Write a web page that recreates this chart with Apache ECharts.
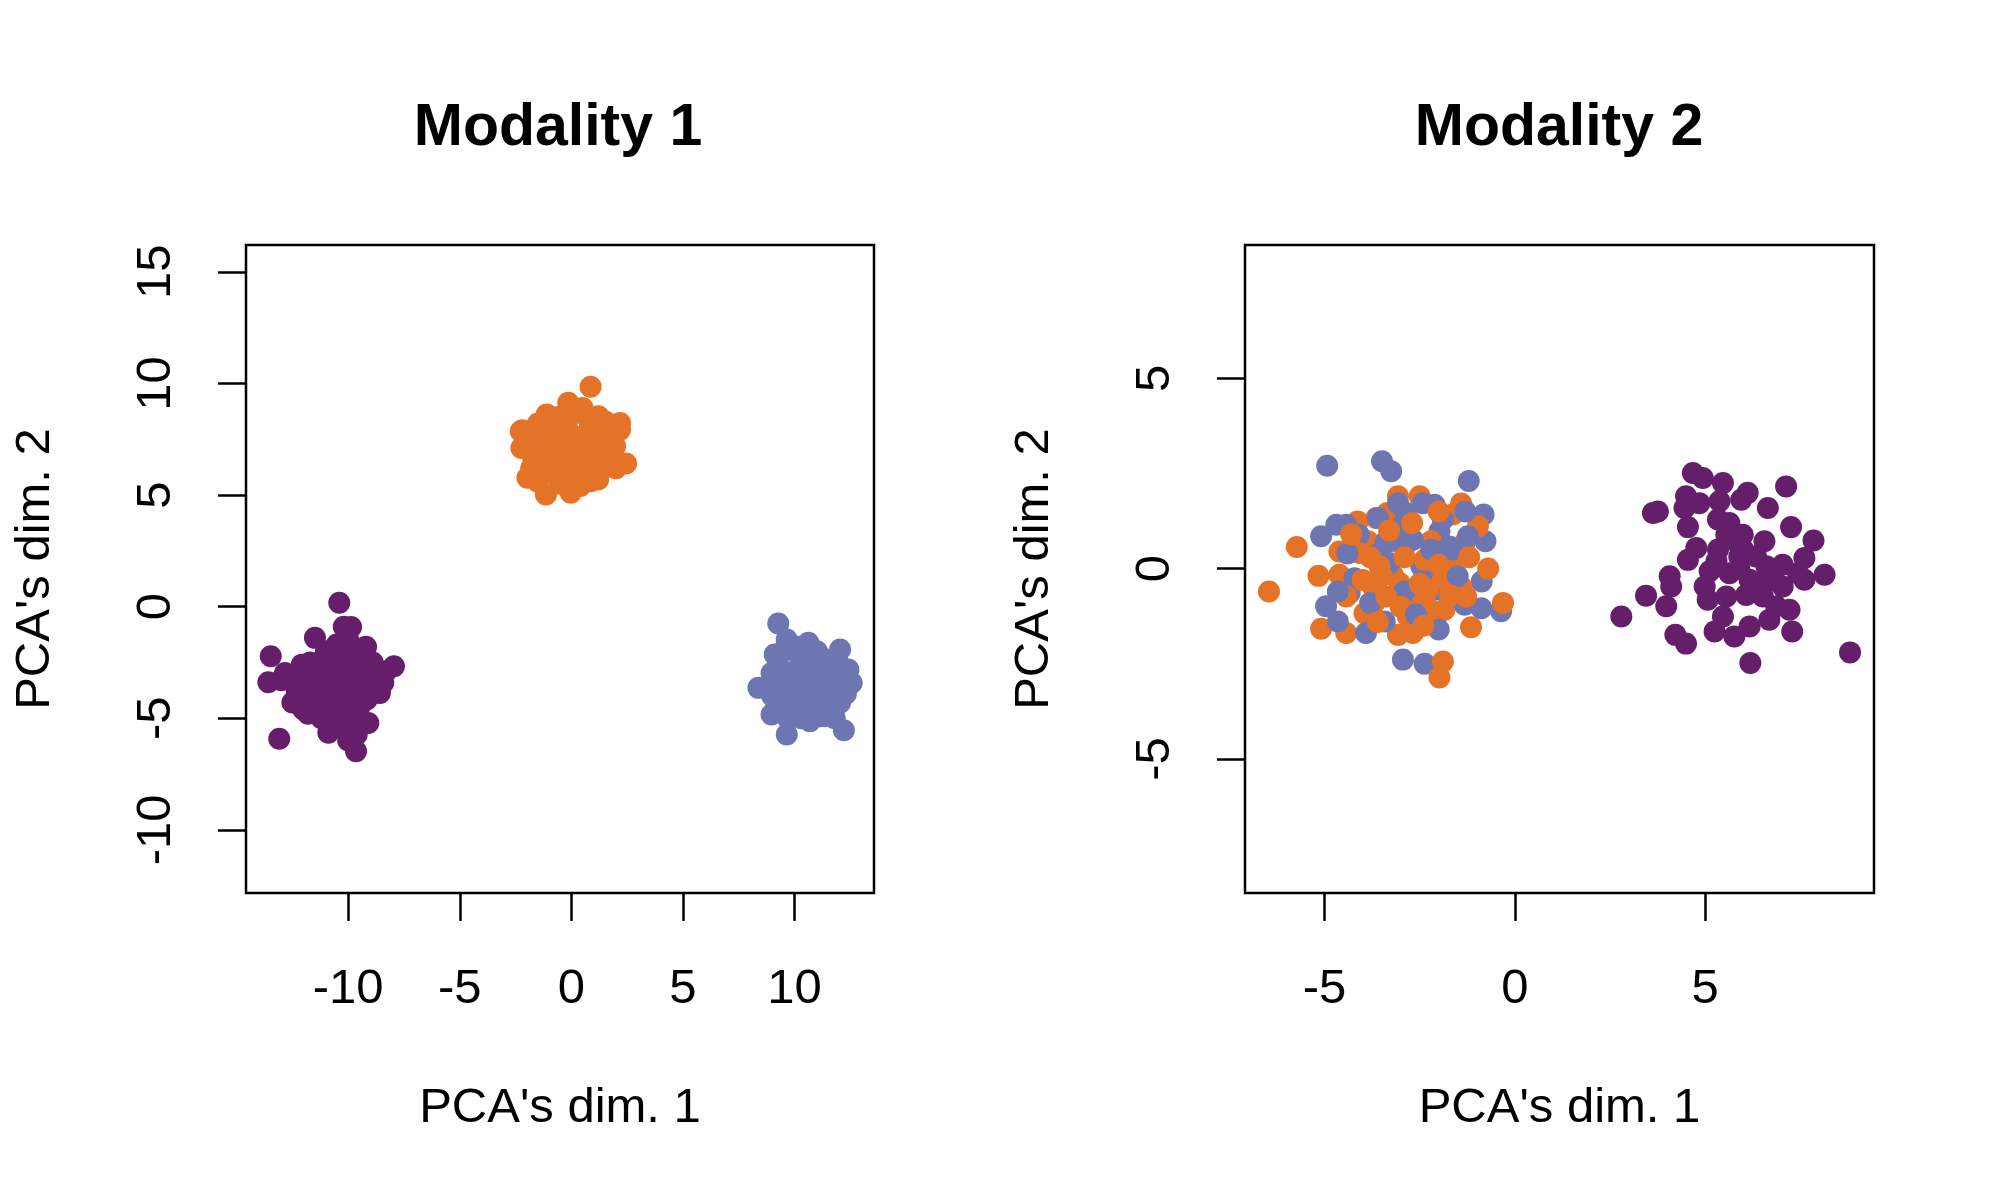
<!DOCTYPE html>
<html>
<head>
<meta charset="utf-8">
<script src="https://cdn.jsdelivr.net/npm/echarts@6/dist/echarts.min.js"></script>
<style>
html,body{margin:0;padding:0;background:#fff;}
#chart{width:2000px;height:1200px;}
</style>
</head>
<body>
<div id="chart"></div>
<script>
// ---------- Data ----------
const titles = ['Modality 1', 'Modality 2'];
const xName = "PCA's dim. 1";
const yName = "PCA's dim. 2";

const m1XTicks = [-10, -5, 0, 5, 10];
const m1YTicks = [-10, -5, 0, 5, 10, 15];
const m2XTicks = [-5, 0, 5];
const m2YTicks = [-5, 0, 5];

// Modality 1 : purple class
const m1Purple = [
  [-10.40,0.17],[-9.87,-0.91],[-11.49,-1.40],[-13.47,-2.22],[-13.58,-3.39],[-12.83,-2.97],
  [-13.09,-5.92],[-7.95,-2.67],[-8.43,-3.41],[-8.58,-3.87],[-9.47,-2.00],[-10.51,-1.70],
  [-12.08,-2.60],[-12.19,-4.16],[-12.01,-4.61],[-10.89,-5.65],[-9.65,-6.48],[-9.10,-5.21],
  [-9.62,-5.73],[-11.26,-3.27],[-10.37,-3.57],[-10.07,-2.67],[-10.96,-2.37],[-8.87,-2.97],
  [-9.17,-4.16],[-10.37,-4.61],[-11.41,-4.31],[-9.92,-4.31],[-10.81,-4.02],[-9.62,-3.42],
  [-11.86,-3.57],[-10.51,-2.82],[-9.47,-2.82],[-9.92,-4.91],[-8.72,-3.57],[-12.61,-3.27],
  [-11.12,-3.12],[-10.37,-2.07],[-10.81,-5.13],[-10.07,-3.71],
  [-11.0,-2.0],[-10.0,-1.5],[-9.8,-2.2],[-11.7,-2.5],[-11.5,-3.0],[-10.7,-3.3],[-10.0,-3.2],
  [-9.3,-3.3],[-9.0,-3.9],[-9.5,-4.5],[-10.2,-4.2],[-10.9,-4.5],[-11.6,-3.9],[-12.3,-3.8],
  [-11.2,-5.0],[-10.4,-5.3],[-9.6,-5.2],[-10.6,-2.7],[-9.8,-2.6],[-8.9,-2.5],[-9.2,-1.8],
  [-10.2,-0.9],[-12.5,-4.3],[-11.8,-4.8],[-10.0,-6.0],[-8.3,-2.9],[-12.3,-3.2],[-13.0,-3.3]
];
// Modality 1 : orange class
const m1Orange = [
  [0.86,9.85],[-0.14,9.13],[-1.11,8.61],[1.21,8.53],[2.18,8.23],[2.18,7.93],[-2.27,7.86],
  [-2.24,7.11],[1.96,7.18],[2.45,6.41],[-1.97,5.77],[-1.14,5.02],[-0.03,5.10],[0.86,5.62],
  [1.36,6.14],[-0.81,5.99],[-1.70,6.59],[-0.21,6.89],[-0.96,7.48],[0.53,7.63],[1.28,7.18],
  [-0.21,8.08],[-1.40,7.93],[0.39,6.59],[-0.51,6.29],[1.73,6.74],[0.83,8.23],[0.24,8.68],
  [-1.70,7.33],[0.53,5.99],[-1.40,6.89],[1.58,7.78],
  [-1.5,8.2],[-0.6,8.5],[0.5,8.9],[1.5,8.3],[-2.0,7.5],[-1.1,7.0],[-0.4,7.4],[0.3,7.2],
  [1.0,7.0],[1.8,7.0],[2.0,6.2],[1.0,6.3],[-0.2,6.1],[-1.2,6.3],[-1.8,6.2],[-1.5,5.6],
  [-0.5,5.5],[0.4,5.4],[1.2,5.7],[0.9,7.7],[-0.1,7.8],[-1.0,8.1],[0.2,6.8],[-0.8,6.7],
  [1.5,6.6],[-2.2,7.9]
];
// Modality 1 : blue class
const m1Blue = [
  [9.27,-0.76],[9.65,-1.47],[10.62,-1.62],[12.04,-1.92],[12.41,-2.82],[12.56,-3.42],
  [8.38,-3.64],[8.97,-4.83],[9.65,-5.73],[12.21,-5.54],[10.69,-5.13],[11.36,-4.91],
  [9.11,-2.15],[8.97,-2.97],[10.54,-2.67],[11.44,-2.37],[11.73,-3.42],[12.04,-4.31],
  [9.79,-4.16],[10.54,-3.87],[11.29,-4.16],[9.79,-3.12],[9.34,-3.57],[10.84,-3.42],
  [10.24,-4.61],[11.44,-3.27],[11.89,-2.97],[10.24,-2.22],[11.14,-4.91],
  [9.5,-2.0],[10.2,-1.8],[11.0,-2.0],[11.8,-2.4],[9.3,-2.7],[10.0,-2.9],[10.8,-2.8],
  [11.5,-2.8],[12.2,-3.3],[9.0,-3.3],[9.6,-3.6],[10.3,-3.3],[11.0,-3.7],[11.7,-3.8],
  [12.3,-3.9],[9.2,-4.3],[10.0,-4.4],[10.7,-4.3],[11.5,-4.5],[10.3,-5.0],[9.7,-5.0],
  [11.8,-5.0],[9.0,-4.0],[10.5,-2.3],[11.2,-2.5],[12.0,-2.6]
];

// Modality 2 : purple class
const m2Purple = [
  [2.80,-1.26],[3.45,-0.71],[3.76,1.50],[3.63,1.46],[4.68,2.51],[4.94,2.38],[5.47,2.25],
  [4.50,1.90],[4.46,1.59],[4.85,1.72],[5.38,1.77],[6.12,1.99],[5.95,1.81],[6.65,1.59],
  [7.13,2.16],[7.26,1.09],[5.34,1.29],[4.55,1.09],[4.77,0.54],[4.55,0.23],[5.34,0.50],
  [5.56,0.89],[5.99,0.89],[6.56,0.72],[6.34,0.32],[5.90,0.32],[7.85,0.74],[7.61,0.28],
  [8.14,-0.16],[7.61,-0.29],[7.04,0.10],[7.04,-0.47],[6.61,-0.29],[6.17,-0.29],[6.08,-0.69],
  [5.56,-0.73],[5.07,-0.82],[4.07,-0.20],[4.11,-0.47],[3.98,-0.99],[4.22,-1.74],[4.50,-1.97],
  [5.25,-1.65],[5.77,-1.78],[6.17,-1.52],[6.69,-1.34],[7.22,-1.08],[7.29,-1.65],[6.19,-2.48],
  [8.81,-2.20],[5.64,1.20],[5.86,0.67],[5.12,-0.07],[5.64,-0.12],[6.61,0.06],[7.44,-0.12],
  [4.99,-0.47],[6.52,-0.73],[6.87,-0.99],[5.47,-1.26],
  [5.9,0.0],[6.3,-0.5],[5.3,0.2],[6.0,0.5],[6.8,-0.3]
];
// Modality 2 : orange class
const m2Orange = [
  [-6.46,-0.60],[-5.73,0.57],[-5.16,-0.19],[-5.09,-1.58],[-4.43,-1.69],[-4.61,0.45],
  [-4.61,-0.16],[-4.13,1.24],[-3.86,0.72],[-3.64,1.33],[-3.35,1.46],[-3.07,1.90],
  [-2.50,1.90],[-1.41,1.71],[-1.63,1.42],[-0.97,1.11],[-1.32,0.67],[-2.20,0.72],
  [-3.25,0.72],[-3.21,-0.16],[-3.03,-0.38],[-3.69,-0.90],[-3.73,-0.47],[-3.95,-1.17],
  [-4.43,-0.73],[-3.07,-1.74],[-2.68,-1.69],[-2.81,-1.26],[-2.72,-0.82],[-2.07,-1.26],
  [-1.85,-1.08],[-1.58,0.10],[-1.41,-0.47],[-1.28,-0.73],[-1.15,-1.54],[-0.31,-0.90],
  [-1.89,-2.44],[-1.98,-2.86],[-2.37,0.23],[-3.56,0.06],[-4.08,0.41],[-1.63,-0.25],
  [-1.89,-0.29],[-2.28,-0.55],[-3.38,-0.73],
  [-3.5,-0.2],[-2.9,0.3],[-2.5,-0.4],[-3.0,-1.0],[-2.3,-1.0],[-3.8,0.3],[-4.0,-0.3],
  [-2.0,0.1],[-1.2,0.3],[-3.3,1.0],[-2.7,1.2],[-2.0,1.5],[-4.3,0.9],[-3.6,-1.4],
  [-2.4,-1.5],[-1.7,-0.7],[-0.7,0.0]
];
// Modality 2 : blue class
const m2Blue = [
  [-4.93,2.70],[-3.49,2.82],[-3.25,2.56],[-1.21,2.30],[-0.82,1.42],[-0.77,0.72],
  [-5.09,0.85],[-4.69,1.15],[-4.43,1.15],[-4.10,0.89],[-3.60,1.33],[-3.07,1.72],
  [-2.86,1.46],[-2.42,1.72],[-2.11,1.68],[-1.89,1.29],[-1.98,0.98],[-1.72,0.58],
  [-1.23,0.85],[-2.90,0.58],[-2.46,0.06],[-2.37,-0.16],[-4.21,-0.25],[-4.34,-0.64],
  [-4.65,-0.60],[-4.96,-0.99],[-4.65,-1.39],[-3.91,-1.69],[-3.42,-1.39],[-0.87,-0.34],
  [-0.88,-1.04],[-0.36,-1.12],[-1.32,-0.95],[-2.07,-0.55],[-2.94,-2.39],[-2.37,-2.50],
  [-1.63,0.50],[-3.56,0.41],[-3.29,0.15],[-2.68,0.76],
  [-3.4,0.7],[-2.2,0.5],[-3.8,-0.9],[-2.9,-0.6],[-1.5,-0.2],[-2.0,-1.6],[-3.0,1.1],
  [-4.4,0.4],[-1.3,1.5],[-2.6,-1.2]
];

const colPurple = '#651E6A';
const colOrange = '#E47327';
const colBlue = '#6E76B2';

// ---------- Build ----------
function interleave(groups) {
  const out = [];
  const n = Math.max(...groups.map(g => g[0].length));
  for (let i = 0; i < n; i++) {
    for (const [pts, col] of groups) {
      if (i < pts.length) out.push({ value: pts[i], itemStyle: { color: col, opacity: 1 } });
    }
  }
  return out;
}

const FONT = 'Liberation Sans, Arial, Helvetica, sans-serif';
const TXT = { color: '#000', fontFamily: FONT, fontSize: 49 };

function xAxisCfg(gi, min, max, ticks) {
  return {
    gridIndex: gi, type: 'value', min: min, max: max, position: 'bottom',
    axisLine: { show: false, onZero: false }, splitLine: { show: false },
    axisTick: { show: true, inside: false, length: 28, customValues: ticks,
      lineStyle: { color: '#000', width: 2.5 } },
    axisLabel: { show: true, customValues: ticks, margin: 72, ...TXT },
    name: xName, nameLocation: 'middle', nameGap: 191, nameTextStyle: { ...TXT }
  };
}
function yAxisCfg(gi, min, max, ticks) {
  return {
    gridIndex: gi, type: 'value', min: min, max: max, position: 'left',
    axisLine: { show: false, onZero: false }, splitLine: { show: false },
    axisTick: { show: true, inside: false, length: 28, customValues: ticks,
      lineStyle: { color: '#000', width: 2.5 } },
    axisLabel: { show: true, customValues: ticks, margin: 65, rotate: 90, ...TXT },
    name: yName, nameLocation: 'middle', nameGap: 186, nameTextStyle: { ...TXT }
  };
}

const chart = echarts.init(document.getElementById('chart'), null, { renderer: 'canvas' });
chart.setOption({
  animation: false,
  backgroundColor: '#fff',
  title: [
    { text: titles[0], left: 553, top: 94, textAlign: 'center',
      textStyle: { fontFamily: FONT, fontSize: 59, fontWeight: 'bold', color: '#000' } },
    { text: titles[1], left: 1554, top: 94, textAlign: 'center',
      textStyle: { fontFamily: FONT, fontSize: 59, fontWeight: 'bold', color: '#000' } }
  ],
  grid: [
    { left: 246, top: 245, width: 628, height: 648, show: true, borderColor: '#000', borderWidth: 2.5, backgroundColor: 'transparent' },
    { left: 1245, top: 245, width: 629, height: 648, show: true, borderColor: '#000', borderWidth: 2.5, backgroundColor: 'transparent' }
  ],
  xAxis: [
    xAxisCfg(0, -14.58, 13.56, m1XTicks),
    xAxisCfg(1, -7.09, 9.44, m2XTicks)
  ],
  yAxis: [
    yAxisCfg(0, -12.83, 16.20, m1YTicks),
    yAxisCfg(1, -8.52, 8.50, m2YTicks)
  ],
  series: [
    { type: 'scatter', xAxisIndex: 0, yAxisIndex: 0, symbol: 'circle', symbolSize: 22,
      itemStyle: { opacity: 1 },
      data: interleave([[m1Purple, colPurple], [m1Orange, colOrange], [m1Blue, colBlue]]) },
    { type: 'scatter', xAxisIndex: 1, yAxisIndex: 1, symbol: 'circle', symbolSize: 22,
      itemStyle: { opacity: 1 },
      data: interleave([[m2Purple, colPurple], [m2Orange, colOrange], [m2Blue, colBlue]]) }
  ]
});
</script>
</body>
</html>
